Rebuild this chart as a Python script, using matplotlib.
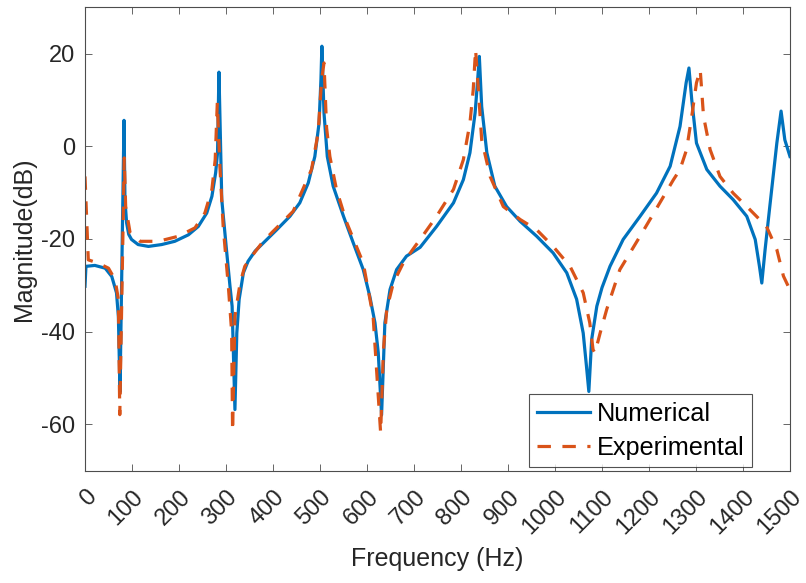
import matplotlib
matplotlib.use("Agg")
import matplotlib.pyplot as plt
import matplotlib.transforms as mtransforms

# numerical FRF
num_freq = [0, 2, 21, 43, 57, 67, 71, 74.5, 83, 85, 88.5, 93, 99, 113, 135, 163, 191, 220, 241, 259,
            270, 278, 282, 285, 291, 301, 308.5, 313, 319, 323, 328, 337, 347, 362, 379, 408, 436,
            457, 475, 489, 498, 502, 504, 508.5, 515.5, 528, 550, 571, 592, 606, 617, 624, 631, 638,
            649, 663, 684, 713, 748, 784, 805, 819, 830, 835, 839, 844, 855, 872, 897, 926, 961, 996,
            1025, 1046, 1060, 1067, 1072, 1078, 1089, 1100, 1117, 1145, 1181, 1216, 1245, 1266, 1279,
            1285, 1291, 1301, 1323, 1351, 1379, 1408, 1426, 1435, 1440, 1447, 1457, 1472, 1481,
            1489, 1500]
num_mag = [-30.2, -25.9, -25.7, -26.3, -28.1, -31.6, -36.7, -53, 5.6, -11.5, -16.5, -19, -20.1,
           -21.2, -21.6, -21.2, -20.5, -19.1, -17.3, -14.4, -10.8, -5.7, -1.4, 16, -11.5, -22.3,
           -30.2, -34.5, -56.8, -40.3, -33, -27.3, -24.8, -22.6, -20.9, -18, -15.1, -12.2, -7.9,
           -2.2, 5, 14.4, 21.6, 7.2, -2.2, -8.6, -15.1, -20.9, -26.6, -32.4, -38.1, -44.6, -58,
           -38.1, -30.9, -26.6, -23.7, -21.8, -17.3, -12.2, -7.2, -1.4, 7.2, 13.7, 19.4, 8.6, -1.4,
           -8.6, -13, -16.2, -19.4, -23, -27.3, -33, -40.3, -47.5, -52.9, -41.7, -34.5, -30.5,
           -25.9, -20.1, -15.1, -10.1, -4.3, 4.3, 13.7, 16.9, 10, 0.7, -5, -8.6, -11.5, -15.1,
           -20.1, -25.9, -29.5, -22.3, -13, 0.7, 7.6, 1.4, -2.2]

# experimental FRF
exp_freq = [0, 7, 28, 50, 64, 71, 74, 83.5, 86.5, 96, 117, 156, 199, 234, 255, 270, 277, 281.5, 287,
            294, 305, 312, 314, 319, 330, 340, 355, 379, 443, 482, 496, 503.5, 508.5, 514, 521, 535,
            557, 592, 613, 629, 635, 642, 656, 677, 702, 713, 748, 784, 805, 819, 826, 831, 837, 844,
            862, 890, 926, 961, 996, 1032, 1060, 1074, 1081, 1085, 1096, 1110, 1138, 1181, 1223,
            1252, 1266, 1280, 1291, 1301, 1309, 1316, 1330, 1351, 1379, 1415, 1450, 1472, 1486, 1500]
exp_mag = [-6.5, -24.5, -25.2, -26.3, -28.8, -33, -57.9, -2.5, -13, -18.7, -20.5, -20.5, -19.4,
           -17.6, -14.4, -9.3, -2.9, 9.4, -4.3, -17.3, -30.2, -40, -61.5, -36.7, -29.5, -25.9,
           -23.7, -20.5, -14, -5, 2.9, 14.4, 18, 4, -2.2, -9.3, -16.5, -25.2, -36.7, -61.8, -43.9,
           -35.2, -29.5, -25.2, -21.6, -20.1, -15.1, -9.3, -2.9, 5, 12.2, 20.9, 12.2, 1.4, -6.5,
           -13, -15.8, -18, -21.6, -25.9, -31.6, -38.1, -43.9, -44.6, -40.3, -35.2, -26.6, -19.4,
           -12.2, -7.2, -5, -0.7, 6.5, 13.7, 16.5, 6.5, -0.7, -6.5, -10.1, -13.7, -17.3, -22.3,
           -28, -31]

xticks = list(range(0, 1501, 100))
yticks = [-60, -40, -20, 0, 20]

plt.rcParams['font.family'] = ['Liberation Sans', 'DejaVu Sans']
plt.rcParams['axes.unicode_minus'] = False

W, H = 806, 583
fig = plt.figure(figsize=(W / 100, H / 100), dpi=100)
ax = fig.add_axes([85 / W, 1 - 470.7 / H, 705 / W, (470.7 - 7.3) / H])

ax.plot(num_freq, num_mag, color='#0072BD', lw=2.3, label='Numerical')
ax.plot(exp_freq, exp_mag, color='#D95319', lw=2.3, dashes=(4.2, 3.6), label='Experimental')

ax.set_xlim(0, 1500)
ax.set_ylim(-70, 30)
ax.set_xticks(xticks)
ax.set_yticks(yticks)
ax.tick_params(axis='both', direction='in', top=True, right=True, length=5, width=0.6,
               colors='#4d4d4d', labelcolor='#262626', labelsize=17)
ax.tick_params(axis='x', pad=16.5)
ax.tick_params(axis='y', pad=7)
ax.set_xticklabels([str(t) for t in xticks], rotation=45, ha='right', va='center',
                   rotation_mode='anchor')
# matlab puts the rotated labels a little right of the tick
shift = mtransforms.ScaledTranslation(8 / 100, 0, fig.dpi_scale_trans)
for lab in ax.get_xticklabels():
    lab.set_transform(lab.get_transform() + shift)

for sp in ax.spines.values():
    sp.set_color('#4d4d4d')
    sp.set_linewidth(0.8)

ax.set_xlabel('Frequency (Hz)', fontsize=18, color='#262626', labelpad=6)
ax.set_ylabel('Magnitude(dB)', fontsize=18, color='#262626', labelpad=4)

leg = ax.legend(loc='lower right', bbox_to_anchor=(0.9457, 0.007), fontsize=18.2,
                frameon=True, fancybox=False, handlelength=2.1, handletextpad=0.25,
                borderpad=0.3, labelspacing=0.4, borderaxespad=0)
leg.get_frame().set_edgecolor('#262626')
leg.get_frame().set_linewidth(0.8)

fig.savefig('out.png', dpi=100)
